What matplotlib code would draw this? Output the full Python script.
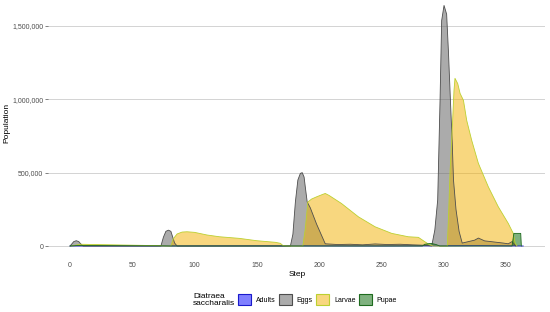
import matplotlib
matplotlib.use('Agg')
from matplotlib import pyplot as plt
from matplotlib.patches import Patch
from matplotlib.ticker import FuncFormatter

# === DATA === #
adults_step = [0, 60, 150, 250, 330, 364]
adults_pop = [0, 0, 1e3, 0, 2e3, 0]

eggs_step = [0, 1.5, 3, 5, 7, 8.5, 10.5, 73, 75, 77, 79, 81, 82.5, 84, 86,
             177, 179, 181, 183, 185, 186.5, 188, 189, 190.5, 193, 198, 205,
             215, 225, 235, 245, 255, 265, 275, 285, 290.5, 293, 295.3, 297.2,
             298.5, 300.4, 302.5, 303.9, 305.5, 307, 308, 310, 312.5, 315,
             320, 325, 328, 333, 338, 343, 348, 352, 355, 357, 358]
eggs_pop = [0, 15e3, 30e3, 36e3, 30e3, 15e3, 0, 0, 60e3, 100e3, 108e3, 100e3, 60e3, 20e3, 0,
            0, 80e3, 300e3, 450e3, 495e3, 500e3, 470e3, 400e3, 300e3, 260e3, 150e3, 15e3,
            10e3, 12e3, 8e3, 14e3, 10e3, 12e3, 8e3, 5e3, 0, 109e3, 313e3, 993e3,
            1537e3, 1640e3, 1580e3, 1333e3, 1000e3, 700e3, 450e3, 250e3, 100e3, 20e3,
            30e3, 40e3, 54e3, 35e3, 30e3, 25e3, 20e3, 15e3, 30e3, 10e3, 0]

larvae_step = [1.3, 8, 20, 40, 60, 73, 75, 81, 83, 86, 90, 94, 100, 110, 120, 136,
               150, 165, 169, 171, 175, 187, 189, 191, 194, 198, 203, 205, 208, 218,
               231.6, 245, 258.4, 271.7, 279.8, 285, 289, 292, 303, 304, 305.2, 307,
               308.4, 309.2, 311.4, 313.3, 316, 318.6, 322.6, 328, 336, 344, 352,
               356, 357.5, 359]
larvae_pop = [0, 12e3, 10e3, 7e3, 4e3, 2e3, 0, 0, 50e3, 82e3, 95e3, 97e3, 93e3, 75e3, 63e3, 52e3,
              36e3, 25e3, 18e3, 3e3, 0, 0, 120e3, 300e3, 320e3, 335e3, 352e3, 358e3, 345e3, 290e3,
              199e3, 131e3, 86e3, 63e3, 59e3, 29e3, 7e3, 0, 0, 200e3, 500e3, 800e3,
              1060e3, 1143e3, 1107e3, 1040e3, 993e3, 857e3, 721e3, 563e3, 403e3, 267e3, 154e3,
              86e3, 20e3, 0]

pupae_step = [0, 5, 73, 80, 170, 180, 283, 285, 290, 294, 297, 355, 356.5, 362, 362.5]
pupae_pop = [0, 3e3, 1e3, 0, 0, 0, 0, 12e3, 18e3, 10e3, 0, 0, 86e3, 86e3, 0]

SeriesNames = ['Adults', 'Eggs', 'Larvae', 'Pupae']
FillColors = ['#0000FF', '#595959', '#F2B000', '#006400']
LineColors = ['#1A1ACC', '#4D4D4D', '#BCD030', '#1E6B1E']
FILL_ALPHA = 0.5

# === FIGURE === #
fig = plt.figure(figsize=(5.5, 3.12), dpi=100)
W, H = 550, 312
ax = fig.add_axes([48 / W, (H - 258) / H, 497 / W, 258 / H])

series = [(adults_step, adults_pop), (eggs_step, eggs_pop),
          (larvae_step, larvae_pop), (pupae_step, pupae_pop)]
for (steps, pops), fc, lc in zip(series, FillColors, LineColors):
    ax.fill_between(steps, pops, 0, facecolor=fc, alpha=FILL_ALPHA, linewidth=0, zorder=2)
    ax.plot(steps, pops, color=lc, linewidth=0.6, zorder=3)

ax.set_xlim(-17.7, 381.5)
ax.set_ylim(-81800, 1677000)
ax.set_xticks([0, 50, 100, 150, 200, 250, 300, 350])
ax.set_yticks([0, 500000, 1000000, 1500000])
ax.yaxis.set_major_formatter(FuncFormatter(lambda v, p: f'{int(v):,}'))
ax.grid(axis='y', color='#CCCCCC', linewidth=0.6, zorder=0)
ax.set_axisbelow(True)
for s in ax.spines.values():
    s.set_visible(False)
ax.tick_params(axis='y', length=2, width=0.5, color='#4D4D4D', labelsize=5,
               labelcolor='#4D4D4D', pad=1.5)
ax.tick_params(axis='x', length=0, labelsize=5, labelcolor='#4D4D4D', pad=3)
for lab in ax.get_xticklabels() + ax.get_yticklabels():
    lab.set_family('Liberation Sans')

fig.text(7 / W, 1 - 123 / H, 'Population', rotation=90, ha='center', va='center',
         fontsize=6, family='Liberation Sans')
fig.text(297 / W, 1 - 275 / H, 'Step', ha='center', va='center',
         fontsize=6, family='Liberation Sans')

# legend
fig.text(193 / W, 1 - 300 / H, 'Diatraea\nsaccharalis', ha='left', va='center',
         fontsize=6, family='Liberation Sans', linespacing=1.1)
handles = [Patch(facecolor=fc, alpha=FILL_ALPHA, edgecolor=lc, linewidth=0.8)
           for fc, lc in zip(FillColors, LineColors)]
handles = [Patch(facecolor=(*matplotlib.colors.to_rgb(fc), FILL_ALPHA), edgecolor=lc, linewidth=0.8)
           for fc, lc in zip(FillColors, LineColors)]
leg = fig.legend(handles, SeriesNames, loc='center left', bbox_to_anchor=(238 / W, 1 - 299.5 / H),
                 ncol=4, frameon=False, prop={'family': 'Liberation Sans', 'size': 5},
                 handlelength=1.85, handleheight=1.85, handletextpad=0.7, columnspacing=0.5,
                 borderpad=0, borderaxespad=0)

fig.savefig('out.png', dpi=100)
